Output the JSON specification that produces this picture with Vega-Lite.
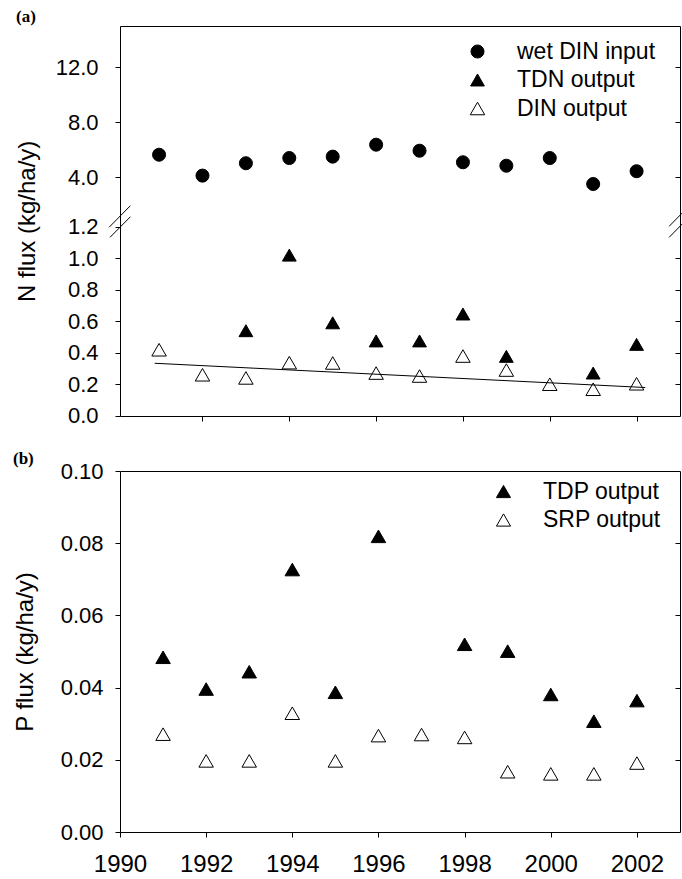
{
  "$schema": "https://vega.github.io/schema/vega-lite/v6.json",
  "background": "white",
  "padding": {"left": 12, "top": 7, "right": 2, "bottom": 0},
  "config": {
    "font": "Liberation Sans",
    "view": {"stroke": "black", "strokeWidth": 1},
    "axis": {"grid": false, "domain": false, "tickColor": "black", "tickWidth": 1, "labelColor": "black", "labelFont": "Liberation Sans", "labelFontSize": 22, "titleFont": "Liberation Sans", "titleFontSize": 24, "titleFontWeight": "normal", "titleColor": "black", "labelFlush": false},
    "legend": {"labelFont": "Liberation Sans", "labelFontSize": 23, "labelColor": "black", "symbolStrokeWidth": 1, "symbolSize": 200, "rowPadding": 4.5, "labelOffset": 28, "title": null}
  },
  "datasets": {
    "n": [
      {"year": 1991, "series": "wet DIN input", "value": 5.64},
      {"year": 1992, "series": "wet DIN input", "value": 4.12},
      {"year": 1993, "series": "wet DIN input", "value": 5.02},
      {"year": 1994, "series": "wet DIN input", "value": 5.40},
      {"year": 1995, "series": "wet DIN input", "value": 5.50},
      {"year": 1996, "series": "wet DIN input", "value": 6.37},
      {"year": 1997, "series": "wet DIN input", "value": 5.93},
      {"year": 1998, "series": "wet DIN input", "value": 5.09},
      {"year": 1999, "series": "wet DIN input", "value": 4.84},
      {"year": 2000, "series": "wet DIN input", "value": 5.40},
      {"year": 2001, "series": "wet DIN input", "value": 3.51},
      {"year": 2002, "series": "wet DIN input", "value": 4.44},
      {"year": 1993, "series": "TDN output", "value": 0.54},
      {"year": 1994, "series": "TDN output", "value": 1.02},
      {"year": 1995, "series": "TDN output", "value": 0.59},
      {"year": 1996, "series": "TDN output", "value": 0.475},
      {"year": 1997, "series": "TDN output", "value": 0.475},
      {"year": 1998, "series": "TDN output", "value": 0.646},
      {"year": 1999, "series": "TDN output", "value": 0.377},
      {"year": 2001, "series": "TDN output", "value": 0.271},
      {"year": 2002, "series": "TDN output", "value": 0.453},
      {"year": 1991, "series": "DIN output", "value": 0.419},
      {"year": 1992, "series": "DIN output", "value": 0.26},
      {"year": 1993, "series": "DIN output", "value": 0.24},
      {"year": 1994, "series": "DIN output", "value": 0.337},
      {"year": 1995, "series": "DIN output", "value": 0.335},
      {"year": 1996, "series": "DIN output", "value": 0.271},
      {"year": 1997, "series": "DIN output", "value": 0.252},
      {"year": 1998, "series": "DIN output", "value": 0.379},
      {"year": 1999, "series": "DIN output", "value": 0.29},
      {"year": 2000, "series": "DIN output", "value": 0.2},
      {"year": 2001, "series": "DIN output", "value": 0.168},
      {"year": 2002, "series": "DIN output", "value": 0.203}
    ],
    "trend": [
      {"year": 1990.9, "value": 0.333},
      {"year": 2002.2, "value": 0.179}
    ],
    "breaks": [
      {"year": 1989.85, "year2": 1990.34, "value": 1.197, "value2": 1.935},
      {"year": 1989.87, "year2": 1990.34, "value": 1.133, "value2": 1.281},
      {"year": 2002.75, "year2": 2003.24, "value": 1.204, "value2": 2.007},
      {"year": 2002.75, "year2": 2003.24, "value": 1.133, "value2": 1.29}
    ],
    "p": [
      {"year": 1991, "series": "TDP output", "value": 0.0484},
      {"year": 1992, "series": "TDP output", "value": 0.0396},
      {"year": 1993, "series": "TDP output", "value": 0.0444},
      {"year": 1994, "series": "TDP output", "value": 0.0727},
      {"year": 1995, "series": "TDP output", "value": 0.0387},
      {"year": 1996, "series": "TDP output", "value": 0.0819},
      {"year": 1998, "series": "TDP output", "value": 0.052},
      {"year": 1999, "series": "TDP output", "value": 0.0501},
      {"year": 2000, "series": "TDP output", "value": 0.0381},
      {"year": 2001, "series": "TDP output", "value": 0.0307},
      {"year": 2002, "series": "TDP output", "value": 0.0364},
      {"year": 1991, "series": "SRP output", "value": 0.0271},
      {"year": 1992, "series": "SRP output", "value": 0.0197},
      {"year": 1993, "series": "SRP output", "value": 0.0197},
      {"year": 1994, "series": "SRP output", "value": 0.0329},
      {"year": 1995, "series": "SRP output", "value": 0.0197},
      {"year": 1996, "series": "SRP output", "value": 0.0267},
      {"year": 1997, "series": "SRP output", "value": 0.027},
      {"year": 1998, "series": "SRP output", "value": 0.0262},
      {"year": 1999, "series": "SRP output", "value": 0.0167},
      {"year": 2000, "series": "SRP output", "value": 0.0161},
      {"year": 2001, "series": "SRP output", "value": 0.0161},
      {"year": 2002, "series": "SRP output", "value": 0.0191}
    ]
  },
  "bounds": "flush",
  "spacing": 55,
  "resolve": {
    "scale": {"shape": "independent", "fill": "independent", "size": "independent", "stroke": "independent"},
    "legend": {"shape": "independent", "fill": "independent", "size": "independent", "stroke": "independent"}
  },
  "vconcat": [
    {
      "width": 560,
      "height": 390,
      "title": {"text": "(a)", "anchor": "start", "frame": "group", "dx": -104, "offset": 0, "font": "Liberation Serif", "fontSize": 17, "fontWeight": "bold", "color": "black"},
      "resolve": {"axis": {"y": "independent"}},
      "layer": [
        {
          "data": {"name": "n"},
          "mark": {"type": "point", "filled": true, "strokeWidth": 1, "opacity": 1},
          "encoding": {
            "x": {"field": "year", "type": "quantitative", "scale": {"domain": [1990.1, 2003], "nice": false, "zero": false}, "axis": {"values": [1992, 1994, 1996, 1998, 2000, 2002], "labels": false, "tickSize": 5, "title": null}},
            "y": {"field": "value", "type": "quantitative", "scale": {"domain": [0, 1.2, 1.3, 15], "range": [389.7, 200.8, 188.4, 0], "nice": false, "zero": false}, "axis": {"values": [0, 0.2, 0.4, 0.6, 0.8, 1.0, 1.2, 4, 8, 12], "format": ".1f", "tickSize": 5, "labelPadding": 17, "title": "N flux (kg/ha/y)", "titleX": -93, "titleBaseline": "middle"}},
            "shape": {"field": "series", "type": "nominal", "scale": {"domain": ["wet DIN input", "TDN output", "DIN output"], "range": ["circle", "triangle-up", "triangle-up"]}, "legend": {"orient": "none", "legendX": 346, "legendY": 14}},
            "fill": {"field": "series", "type": "nominal", "scale": {"domain": ["wet DIN input", "TDN output", "DIN output"], "range": ["black", "black", "white"]}, "legend": {"orient": "none", "legendX": 346, "legendY": 14}},
            "stroke": {"field": "series", "type": "nominal", "scale": {"domain": ["wet DIN input", "TDN output", "DIN output"], "range": ["black", "black", "black"]}, "legend": {"orient": "none", "legendX": 346, "legendY": 14}},
            "size": {"field": "series", "type": "nominal", "scale": {"domain": ["wet DIN input", "TDN output", "DIN output"], "range": [170, 210, 210]}, "legend": {"orient": "none", "legendX": 346, "legendY": 14}}
          }
        },
        {
          "data": {"name": "trend"},
          "mark": {"type": "line", "color": "black", "strokeWidth": 1},
          "encoding": {
            "x": {"field": "year", "type": "quantitative", "scale": {"domain": [1990.1, 2003], "nice": false, "zero": false}},
            "y": {"field": "value", "type": "quantitative", "scale": {"domain": [0, 1.2, 1.3, 15], "range": [389.7, 200.8, 188.4, 0], "nice": false, "zero": false}, "axis": {"orient": "right", "values": [0.2, 0.4, 0.6, 0.8, 1.0, 4, 8, 12], "labels": false, "tickSize": -5, "title": null}}
          }
        },
        {
          "data": {"name": "breaks"},
          "mark": {"type": "rule", "color": "black", "strokeWidth": 1, "clip": false},
          "encoding": {
            "x": {"field": "year", "type": "quantitative"},
            "x2": {"field": "year2"},
            "y": {"field": "value", "type": "quantitative", "axis": null},
            "y2": {"field": "value2"}
          }
        }
      ]
    },
    {
      "width": 560,
      "height": 361,
      "title": {"text": "(b)", "anchor": "start", "frame": "group", "dx": -107, "dy": 8, "offset": 0, "font": "Liberation Serif", "fontSize": 17, "fontWeight": "bold", "color": "black"},
      "data": {"name": "p"},
      "resolve": {"axis": {"y": "independent"}},
      "encoding": {
        "x": {"field": "year", "type": "quantitative", "scale": {"domain": [1990, 2003], "nice": false, "zero": false}, "axis": {"values": [1990, 1992, 1994, 1996, 1998, 2000, 2002], "format": "d", "labelFontSize": 24, "tickSize": 5, "labelPadding": 15, "title": null}},
        "shape": {"field": "series", "type": "nominal", "scale": {"domain": ["TDP output", "SRP output"], "range": ["triangle-up", "triangle-up"]}, "legend": {"orient": "none", "legendX": 372, "legendY": 9}},
        "fill": {"field": "series", "type": "nominal", "scale": {"domain": ["TDP output", "SRP output"], "range": ["black", "white"]}, "legend": {"orient": "none", "legendX": 372, "legendY": 9}},
        "stroke": {"field": "series", "type": "nominal", "scale": {"domain": ["TDP output", "SRP output"], "range": ["black", "black"]}, "legend": {"orient": "none", "legendX": 372, "legendY": 9}}
      },
      "layer": [
        {
          "transform": [{"filter": "datum.series === 'TDP output'"}],
          "mark": {"type": "point", "filled": true, "strokeWidth": 1, "opacity": 1, "size": 210},
          "encoding": {
            "y": {"field": "value", "type": "quantitative", "scale": {"domain": [0, 0.1], "nice": false, "zero": true}, "axis": {"values": [0, 0.02, 0.04, 0.06, 0.08, 0.1], "format": ".2f", "tickSize": 5, "labelPadding": 12, "title": "P flux (kg/ha/y)", "titleX": -95, "titleBaseline": "middle"}}
          }
        },
        {
          "transform": [{"filter": "datum.series === 'SRP output'"}],
          "mark": {"type": "point", "filled": true, "strokeWidth": 1, "opacity": 1, "size": 210},
          "encoding": {
            "y": {"field": "value", "type": "quantitative", "scale": {"domain": [0, 0.1], "nice": false, "zero": true}, "axis": {"orient": "right", "values": [0.02, 0.04, 0.06, 0.08], "labels": false, "tickSize": -5, "title": null}}
          }
        }
      ]
    }
  ]
}
